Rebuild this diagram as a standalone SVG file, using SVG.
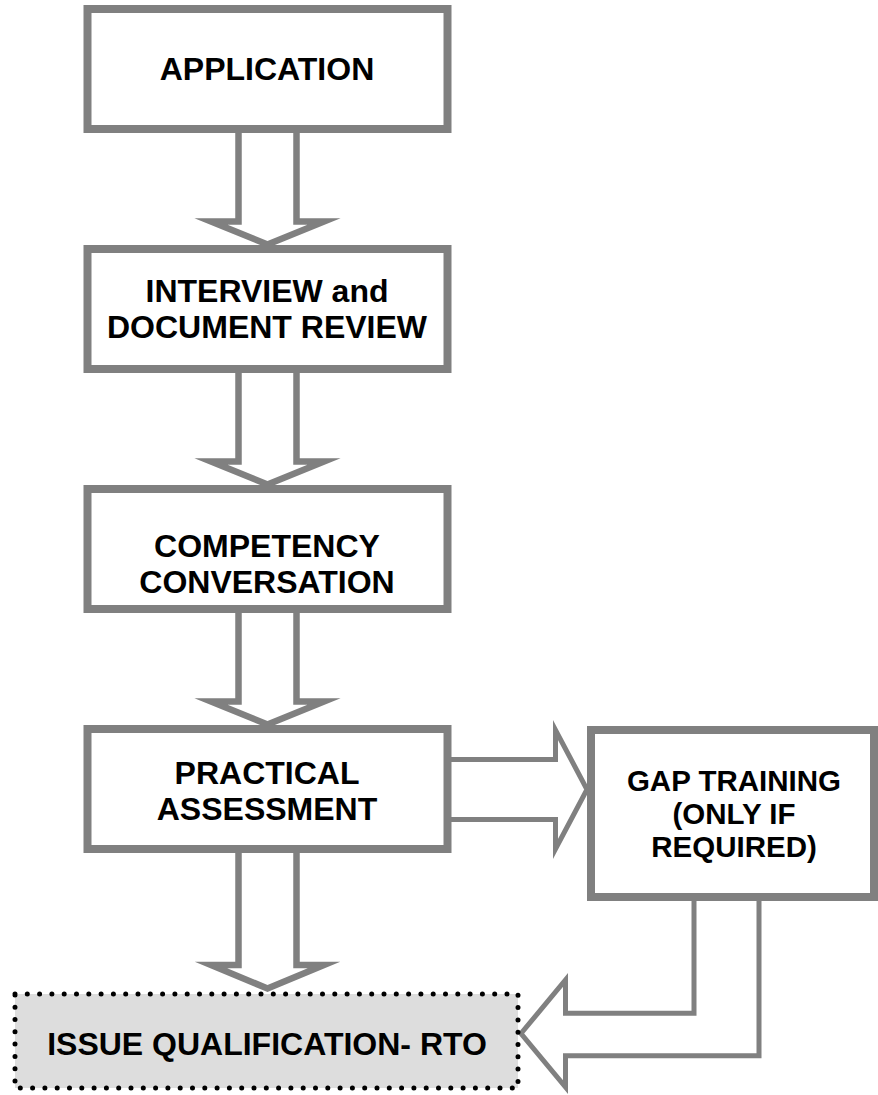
<svg xmlns="http://www.w3.org/2000/svg" width="878" height="1095" viewBox="0 0 878 1095">
<style>
.box{fill:#ffffff;stroke:#808080;stroke-width:8}
.arr{fill:#ffffff;stroke:#808080;stroke-width:6.5;stroke-linejoin:miter;stroke-miterlimit:10}
.arr2{fill:#ffffff;stroke:#808080;stroke-width:5;stroke-linejoin:miter;stroke-miterlimit:10}
.t{font-family:"Liberation Sans",Arial,sans-serif;font-weight:bold;font-size:32px;fill:#000000;text-anchor:middle}
.tg{font-family:"Liberation Sans",Arial,sans-serif;font-weight:bold;font-size:29.5px;fill:#000000;text-anchor:middle}
.dot{fill:#dddddd;stroke:#000000;stroke-width:5;stroke-dasharray:0 12.3;stroke-linecap:round}
</style>
<rect width="878" height="1095" fill="#ffffff"/>
<g id="connectors">
  <polygon class="arr" points="238.5,128 238.5,221.5 211,221.5 267.5,244.5 324,221.5 296.5,221.5 296.5,128"/>
  <polygon class="arr" points="238.5,368 238.5,461.5 211,461.5 267.5,484.5 324,461.5 296.5,461.5 296.5,368"/>
  <polygon class="arr" points="238.5,608 238.5,701.5 211,701.5 267.5,724.5 324,701.5 296.5,701.5 296.5,608"/>
  <polygon class="arr" points="238.5,848 238.5,965 211,965 267.5,988.5 324,965 296.5,965 296.5,848"/>
  <polygon class="arr2" points="446,759.5 555.5,759.5 555.5,730 587,789.5 555.5,849 555.5,819.5 446,819.5"/>
  <polygon class="arr2" points="694,896 694,1013.3 565.5,1013.3 565.5,980 521,1033.5 565.5,1087 565.5,1055.8 759,1055.8 759,896"/>
</g>
<g id="application">
  <rect class="box" x="87.5" y="9" width="360" height="120"/>
  <text class="t" x="267" y="80">APPLICATION</text>
</g>
<g id="interview">
  <rect class="box" x="87.5" y="249" width="360" height="120"/>
  <text class="t" x="267" y="302">INTERVIEW and</text>
  <text class="t" x="267" y="338">DOCUMENT REVIEW</text>
</g>
<g id="competency">
  <rect class="box" x="87.5" y="489" width="360" height="120"/>
  <text class="t" x="267" y="557">COMPETENCY</text>
  <text class="t" x="267" y="593">CONVERSATION</text>
</g>
<g id="practical">
  <rect class="box" x="87.5" y="729" width="360" height="120"/>
  <text class="t" x="267" y="784">PRACTICAL</text>
  <text class="t" x="267" y="820">ASSESSMENT</text>
</g>
<g id="gap-training">
  <rect class="box" x="591" y="730" width="283" height="167"/>
  <text class="tg" x="734" y="791">GAP TRAINING</text>
  <text class="tg" x="734" y="824">(ONLY IF</text>
  <text class="tg" x="734" y="857">REQUIRED)</text>
</g>
<g id="issue">
  <rect class="dot" x="15" y="994" width="503" height="94"/>
  <text class="t" x="267" y="1055">ISSUE QUALIFICATION- RTO</text>
</g>
</svg>
